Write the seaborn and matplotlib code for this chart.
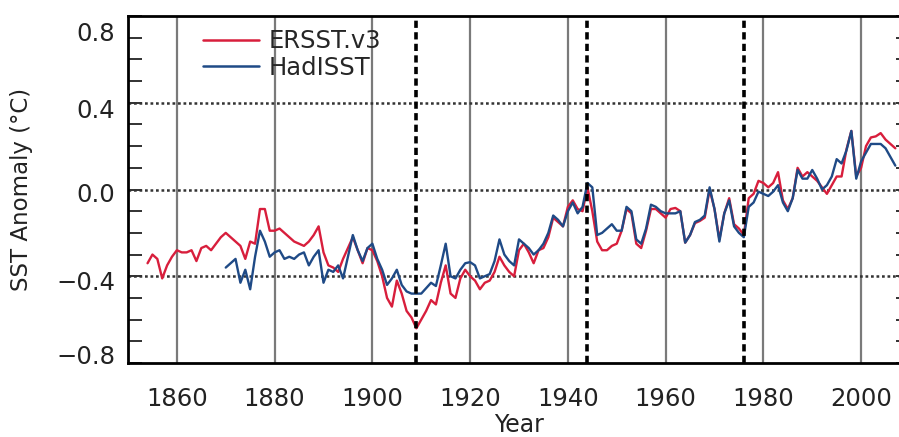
import numpy as np
import pandas as pd
import matplotlib
matplotlib.use("Agg")
import matplotlib.pyplot as plt
import matplotlib.transforms as mtransforms
from matplotlib.ticker import MultipleLocator, FixedLocator
import seaborn as sns

# Annual global-mean SST anomalies (°C)
ersst_years = list(range(1854, 2008))
ersst_values = [
    -0.34, -0.30, -0.32, -0.41, -0.35, -0.31, -0.28, -0.29, -0.29, -0.28,  # 1854-1863
    -0.33, -0.27, -0.26, -0.28, -0.25, -0.22, -0.20, -0.22, -0.24, -0.26,  # 1864-1873
    -0.32, -0.24, -0.25, -0.09, -0.09, -0.19, -0.19, -0.18, -0.20, -0.22,  # 1874-1883
    -0.24, -0.25, -0.26, -0.24, -0.21, -0.17, -0.29, -0.35, -0.36, -0.38,  # 1884-1893
    -0.32, -0.27, -0.22, -0.28, -0.34, -0.27, -0.28, -0.33, -0.40, -0.50,  # 1894-1903
    -0.54, -0.42, -0.48, -0.56, -0.59, -0.64, -0.60, -0.56, -0.51, -0.53,  # 1904-1913
    -0.43, -0.35, -0.48, -0.50, -0.41, -0.37, -0.40, -0.42, -0.46, -0.43,  # 1914-1923
    -0.42, -0.38, -0.31, -0.35, -0.38, -0.40, -0.28, -0.25, -0.29, -0.34,  # 1924-1933
    -0.28, -0.27, -0.22, -0.13, -0.15, -0.17, -0.08, -0.05, -0.09, -0.10,  # 1934-1943
    0.01, -0.10, -0.24, -0.28, -0.28, -0.26, -0.25, -0.19, -0.09, -0.11,   # 1944-1953
    -0.25, -0.27, -0.19, -0.09, -0.09, -0.11, -0.13, -0.09, -0.085, -0.10, # 1954-1963
    -0.245, -0.21, -0.155, -0.145, -0.13, 0.00, -0.09, -0.23, -0.11, -0.04,  # 1964-1973
    -0.16, -0.18, -0.21, -0.04, -0.02, 0.04, 0.03, 0.01, 0.03, 0.08,      # 1974-1983
    -0.05, -0.09, -0.04, 0.10, 0.06, 0.08, 0.06, 0.04, 0.01, -0.02,       # 1984-1993
    0.02, 0.06, 0.06, 0.185, 0.27, 0.06, 0.10, 0.20, 0.24, 0.245,         # 1994-2003
    0.26, 0.23, 0.21, 0.19,                                               # 2004-2007
]

hadisst_years = list(range(1870, 2008))
hadisst_values = [
    -0.36, -0.34, -0.32, -0.43, -0.37, -0.46, -0.31, -0.19, -0.24, -0.31,  # 1870-1879
    -0.29, -0.28, -0.32, -0.31, -0.32, -0.30, -0.29, -0.35, -0.31, -0.28,  # 1880-1889
    -0.43, -0.37, -0.38, -0.35, -0.41, -0.31, -0.21, -0.28, -0.33, -0.27,  # 1890-1899
    -0.25, -0.32, -0.37, -0.44, -0.41, -0.37, -0.44, -0.47, -0.48, -0.48,  # 1900-1909
    -0.48, -0.455, -0.43, -0.445, -0.35, -0.25, -0.40, -0.41, -0.37, -0.34,  # 1910-1919
    -0.335, -0.35, -0.41, -0.40, -0.39, -0.33, -0.23, -0.30, -0.33, -0.35,  # 1920-1929
    -0.23, -0.25, -0.27, -0.30, -0.28, -0.25, -0.20, -0.12, -0.14, -0.17,  # 1930-1939
    -0.10, -0.06, -0.11, -0.08, 0.03, 0.01, -0.21, -0.20, -0.18, -0.16,    # 1940-1949
    -0.19, -0.19, -0.08, -0.10, -0.23, -0.25, -0.18, -0.07, -0.08, -0.10,  # 1950-1959
    -0.11, -0.11, -0.11, -0.10, -0.245, -0.21, -0.15, -0.14, -0.12, 0.01,  # 1960-1969
    -0.09, -0.24, -0.11, -0.05, -0.17, -0.20, -0.22, -0.08, -0.06, -0.01,  # 1970-1979
    -0.02, -0.03, -0.01, 0.02, -0.06, -0.10, -0.04, 0.09, 0.05, 0.05,      # 1980-1989
    0.09, 0.05, 0.00, 0.02, 0.06, 0.14, 0.12, 0.18, 0.27, 0.05,            # 1990-1999
    0.13, 0.17, 0.21, 0.21, 0.21, 0.19, 0.15, 0.11,                        # 2000-2007
]

series_names = ["ERSST.v3", "HadISST"]
series_colors = ["#d81e3c", "#1f4a86"]
event_years = [1909, 1944, 1976]
x_ticks = [1860, 1880, 1900, 1920, 1940, 1960, 1980, 2000]
y_ticks = [-0.8, -0.4, 0.0, 0.4, 0.8]
y_ticklabels = ["\u22120.8", "\u22120.4", "0.0", "0.4", "0.8"]

df = pd.concat([
    pd.DataFrame({"Year": ersst_years, "Anomaly": ersst_values, "Dataset": series_names[0]}),
    pd.DataFrame({"Year": hadisst_years, "Anomaly": hadisst_values, "Dataset": series_names[1]}),
], ignore_index=True)

sns.set_theme(style="white")
plt.rcParams["font.family"] = ["DejaVu Sans"]

fig = plt.figure(figsize=(8.99, 4.37), dpi=100)
ax = fig.add_axes([128 / 899, 74 / 437, 782 / 899, 347 / 437])

# reference grid: grey vertical lines, dotted horizontal lines
for xv in x_ticks:
    ax.axvline(xv, color="#7a7a7a", lw=1.6, zorder=1)
for yv in [-0.4, 0.0, 0.4]:
    ax.axhline(yv, color="#333333", lw=1.8, ls=(0, (1.1, 1.1)), zorder=1)

sns.lineplot(data=df, x="Year", y="Anomaly", hue="Dataset",
             palette=dict(zip(series_names, series_colors)),
             lw=1.7, ax=ax, zorder=3, legend=False)

for ev in event_years:
    ax.axvline(ev, color="black", lw=2.6, ls=(0, (2.0, 1.2)), zorder=4)

ax.set_xlim(1850, 2010)
ax.set_ylim(-0.8, 0.8)

ax.xaxis.set_major_locator(FixedLocator(x_ticks))
ax.tick_params(axis="x", length=0, pad=17, labelsize=17.5, colors="#222222")
ax.yaxis.set_major_locator(FixedLocator(y_ticks))
ax.set_yticklabels(y_ticklabels)
ax.yaxis.set_minor_locator(MultipleLocator(0.1))
ax.tick_params(axis="y", which="both", direction="in", length=10, width=1.3,
               left=True, right=True, pad=9, labelsize=17.5, colors="#222222")

# nudge the y tick labels the way the axis draws them
offsets = {0: 6, 1: -3, 2: -2, 3: -4, 4: -11}
for i, lab in enumerate(ax.get_yticklabels()):
    lab.set_transform(lab.get_transform() +
                      mtransforms.ScaledTranslation(0, offsets[i] / 72, fig.dpi_scale_trans))

for side in ["left", "right", "top", "bottom"]:
    ax.spines[side].set_color("black")
    ax.spines[side].set_linewidth(2.0)

ax.set_xlabel("Year", fontsize=17, color="#222222", labelpad=1.5)
ax.set_ylabel("SST Anomaly (\u00b0C)", fontsize=16.5, color="#222222")
ax.yaxis.set_label_coords(-0.122, 0.5)

handles = [plt.Line2D([], [], color=c, lw=1.8) for c in series_colors]
ax.legend(handles, series_names, loc="upper left", bbox_to_anchor=(0.083, 0.99),
          frameon=False, fontsize=17.5, handlelength=2.3, handletextpad=0.4,
          labelspacing=0.1, borderaxespad=0)

fig.savefig("out.png", dpi=100)
